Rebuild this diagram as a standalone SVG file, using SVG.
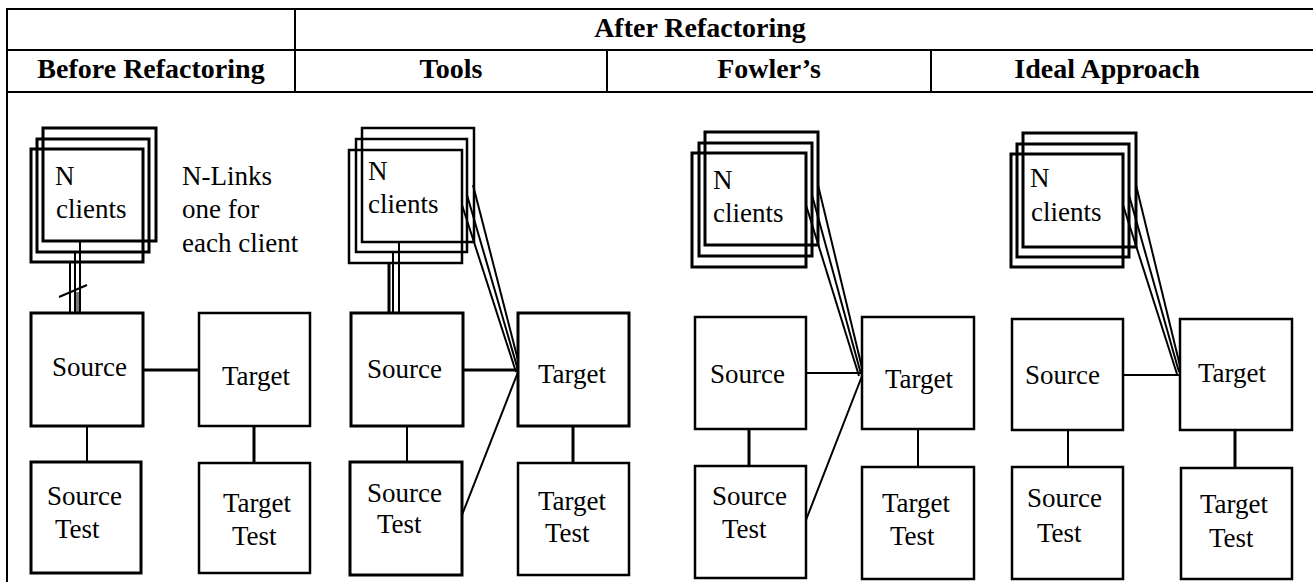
<svg xmlns="http://www.w3.org/2000/svg" width="1313" height="582" viewBox="0 0 1313 582">
  <style>
    .grid { stroke: #000; stroke-width: 2; fill: none; }
    .hd { font-family: "Liberation Serif", "Times New Roman", serif; font-weight: bold; font-size: 28px; fill: #000; text-anchor: middle; }
    .lbl { font-family: "Liberation Serif", "Times New Roman", serif; font-size: 27px; fill: #000; }
    .box { fill: #fff; stroke: #000; stroke-width: 2.5; }
    .stack { fill: none; stroke: #000; stroke-width: 2.5; }
    .thick .box, .thick .stack { stroke-width: 3; }
    .ln { stroke: #000; stroke-width: 2; fill: none; }
    .lnb { stroke: #000; stroke-width: 3; fill: none; }
  </style>
  <rect width="1313" height="582" fill="#fff"/>

  <!-- table frame and header -->
  <g id="table">
    <line class="grid" x1="7" y1="9" x2="1313" y2="9"/>
    <line class="grid" x1="7" y1="50" x2="1313" y2="50"/>
    <line class="grid" x1="7" y1="92" x2="1313" y2="92"/>
    <line class="grid" x1="7" y1="8" x2="7" y2="582"/>
    <line class="grid" x1="295" y1="8" x2="295" y2="92"/>
    <line class="grid" x1="607" y1="50" x2="607" y2="92"/>
    <line class="grid" x1="931" y1="50" x2="931" y2="92"/>
    <text class="hd" x="700" y="37">After Refactoring</text>
    <text class="hd" x="151" y="78">Before Refactoring</text>
    <text class="hd" x="451" y="78">Tools</text>
    <text class="hd" x="769" y="78">Fowler’s</text>
    <text class="hd" x="1107" y="78">Ideal Approach</text>
  </g>

  <!-- connectors -->
  <g id="connectors">
    <!-- before refactoring: one link per client, crossed -->
    <rect x="75" y="292" width="5" height="21" fill="#777"/>
    <line class="ln" x1="80" y1="241" x2="80" y2="313"/>
    <line class="ln" x1="75" y1="252" x2="75" y2="313"/>
    <line class="ln" x1="70" y1="262" x2="70" y2="313"/>
    <line class="ln" x1="59" y1="297" x2="87" y2="285"/>
    <line class="lnb" x1="143" y1="370" x2="199" y2="370"/>
    <line class="ln" x1="87" y1="426" x2="87" y2="462"/>
    <line class="lnb" x1="254" y1="426" x2="254" y2="463"/>
    <!-- tools -->
    <line class="ln" x1="399" y1="242" x2="399" y2="313"/>
    <line class="ln" x1="393" y1="252" x2="393" y2="313"/>
    <line class="lnb" x1="389" y1="263" x2="389" y2="313"/>
    <line class="ln" x1="462" y1="205" x2="516" y2="372"/>
    <line class="ln" x1="467" y1="195" x2="518" y2="370"/>
    <line class="ln" x1="473" y1="185" x2="520" y2="368"/>
    <line class="lnb" x1="463" y1="370" x2="518" y2="370"/>
    <line class="ln" x1="462" y1="515" x2="518" y2="372"/>
    <line class="ln" x1="407" y1="426" x2="407" y2="462"/>
    <line class="lnb" x1="573" y1="426" x2="573" y2="463"/>
    <!-- fowler's -->
    <line class="ln" x1="806" y1="205" x2="859" y2="376"/>
    <line class="ln" x1="812" y1="195" x2="861" y2="374"/>
    <line class="ln" x1="818" y1="185" x2="863" y2="372"/>
    <line class="ln" x1="806" y1="373" x2="862" y2="373"/>
    <line class="ln" x1="806" y1="520" x2="862" y2="376"/>
    <line class="lnb" x1="749" y1="429" x2="749" y2="466"/>
    <line class="ln" x1="918" y1="429" x2="918" y2="467"/>
    <!-- ideal approach -->
    <line class="ln" x1="1123" y1="205" x2="1177" y2="374"/>
    <line class="ln" x1="1129" y1="195" x2="1179" y2="372"/>
    <line class="ln" x1="1136" y1="185" x2="1181" y2="370"/>
    <line class="ln" x1="1123" y1="375" x2="1180" y2="375"/>
    <line class="ln" x1="1068" y1="430" x2="1068" y2="467"/>
    <line class="lnb" x1="1235" y1="430" x2="1235" y2="468"/>
  </g>

  <!-- before refactoring -->
  <g id="before-clients" class="thick">
    <rect class="stack" x="43" y="128" width="113" height="113"/>
    <rect class="stack" x="37" y="139" width="112" height="113"/>
    <rect class="stack" x="31" y="149" width="112" height="113"/>
    <text class="lbl" x="55" y="185">N</text>
    <text class="lbl" x="56" y="218">clients</text>
  </g>
  <g id="before-note">
    <text class="lbl" x="182" y="185">N-Links</text>
    <text class="lbl" x="182" y="218">one for</text>
    <text class="lbl" x="182" y="252">each client</text>
  </g>
  <g id="before-source" class="thick">
    <rect class="box" x="31" y="313" width="112" height="113"/>
    <text class="lbl" x="52" y="376">Source</text>
  </g>
  <g id="before-target">
    <rect class="box" x="199" y="313" width="111" height="113"/>
    <text class="lbl" x="222" y="385">Target</text>
  </g>
  <g id="before-source-test" class="thick">
    <rect class="box" x="31" y="462" width="110" height="111"/>
    <text class="lbl" x="47" y="505">Source</text>
    <text class="lbl" x="55" y="538">Test</text>
  </g>
  <g id="before-target-test">
    <rect class="box" x="199" y="463" width="111" height="110"/>
    <text class="lbl" x="223" y="512">Target</text>
    <text class="lbl" x="232" y="545">Test</text>
  </g>

  <!-- tools -->
  <g id="tools-clients">
    <rect class="stack" x="362" y="128" width="112" height="114"/>
    <rect class="stack" x="356" y="139" width="111" height="113"/>
    <rect class="stack" x="349" y="150" width="113" height="113"/>
    <text class="lbl" x="368" y="180">N</text>
    <text class="lbl" x="368" y="213">clients</text>
  </g>
  <g id="tools-source" class="thick">
    <rect class="box" x="351" y="313" width="112" height="113"/>
    <text class="lbl" x="367" y="378">Source</text>
  </g>
  <g id="tools-target" class="thick">
    <rect class="box" x="518" y="313" width="111" height="113"/>
    <text class="lbl" x="538" y="383">Target</text>
  </g>
  <g id="tools-source-test" class="thick">
    <rect class="box" x="350" y="462" width="112" height="113"/>
    <text class="lbl" x="367" y="502">Source</text>
    <text class="lbl" x="377" y="533">Test</text>
  </g>
  <g id="tools-target-test">
    <rect class="box" x="518" y="463" width="111" height="112"/>
    <text class="lbl" x="538" y="510">Target</text>
    <text class="lbl" x="545" y="542">Test</text>
  </g>

  <!-- fowler's -->
  <g id="fowler-clients" class="thick">
    <rect class="stack" x="705" y="132" width="113" height="113"/>
    <rect class="stack" x="699" y="143" width="113" height="113"/>
    <rect class="stack" x="692" y="153" width="114" height="114"/>
    <text class="lbl" x="713" y="189">N</text>
    <text class="lbl" x="713" y="222">clients</text>
  </g>
  <g id="fowler-source">
    <rect class="box" x="695" y="317" width="111" height="112"/>
    <text class="lbl" x="710" y="383">Source</text>
  </g>
  <g id="fowler-target">
    <rect class="box" x="862" y="317" width="112" height="112"/>
    <text class="lbl" x="885" y="388">Target</text>
  </g>
  <g id="fowler-source-test">
    <rect class="box" x="695" y="466" width="111" height="112"/>
    <text class="lbl" x="712" y="505">Source</text>
    <text class="lbl" x="722" y="538">Test</text>
  </g>
  <g id="fowler-target-test">
    <rect class="box" x="862" y="467" width="112" height="112"/>
    <text class="lbl" x="882" y="512">Target</text>
    <text class="lbl" x="890" y="545">Test</text>
  </g>

  <!-- ideal approach -->
  <g id="ideal-clients" class="thick">
    <rect class="stack" x="1023" y="133" width="113" height="114"/>
    <rect class="stack" x="1017" y="144" width="112" height="113"/>
    <rect class="stack" x="1011" y="154" width="112" height="113"/>
    <text class="lbl" x="1030" y="187">N</text>
    <text class="lbl" x="1031" y="221">clients</text>
  </g>
  <g id="ideal-source">
    <rect class="box" x="1012" y="319" width="111" height="111"/>
    <text class="lbl" x="1025" y="384">Source</text>
  </g>
  <g id="ideal-target">
    <rect class="box" x="1180" y="319" width="112" height="111"/>
    <text class="lbl" x="1198" y="382">Target</text>
  </g>
  <g id="ideal-source-test">
    <rect class="box" x="1012" y="467" width="111" height="112"/>
    <text class="lbl" x="1027" y="507">Source</text>
    <text class="lbl" x="1037" y="542">Test</text>
  </g>
  <g id="ideal-target-test">
    <rect class="box" x="1181" y="468" width="111" height="111"/>
    <text class="lbl" x="1200" y="513">Target</text>
    <text class="lbl" x="1209" y="547">Test</text>
  </g>
</svg>
